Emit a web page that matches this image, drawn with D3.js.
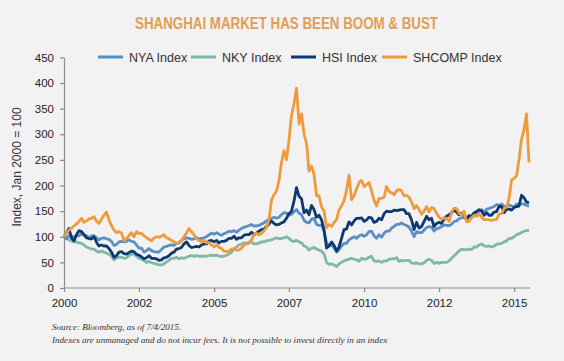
<!DOCTYPE html>
<html>
<head>
<meta charset="utf-8">
<script src="https://cdn.jsdelivr.net/npm/d3@7"></script>
<style>
  body { margin: 0; background: #f2f2f2; }
  svg { display: block; }
</style>
</head>
<body>
<div id="chart"></div>
<script>
// data: index values, Jan 2000 = 100, one value per month (Jan 2000 .. Jul 2015)
const firstMonth = new Date(2000, 0, 1)
const seriesNames = ['NYA Index', 'NKY Index', 'HSI Index', 'SHCOMP Index']

const nya = [
  100, 96, 102, 101, 100, 101, 102, 106, 103, 102, 98, 102,
  102, 98, 94, 97, 98, 96, 95, 91, 83, 85, 90, 91,
  90, 91, 94, 91, 90, 84, 78, 78, 70, 73, 77, 73,
  71, 70, 70, 75, 80, 81, 83, 84, 83, 87, 88, 93,
  96, 98, 97, 95, 96, 98, 96, 97, 98, 100, 104, 107,
  105, 108, 105, 103, 106, 108, 111, 110, 112, 109, 113, 116,
  119, 120, 122, 124, 121, 121, 122, 125, 127, 131, 134, 136,
  138, 136, 138, 143, 147, 146, 142, 144, 149, 153, 146, 143,
  132, 128, 127, 134, 136, 124, 122, 123, 110, 88, 82, 84,
  78, 70, 75, 82, 87, 87, 94, 97, 100, 97, 102, 104,
  101, 104, 110, 111, 102, 97, 104, 99, 107, 111, 111, 117,
  120, 124, 124, 127, 124, 122, 119, 111, 100, 110, 108, 108,
  113, 118, 120, 119, 111, 116, 117, 120, 123, 122, 122, 124,
  130, 131, 135, 137, 138, 135, 141, 137, 142, 148, 150, 153,
  148, 154, 155, 157, 159, 163, 161, 164, 159, 160, 162, 160,
  158, 164, 162, 164, 164, 161, 160
]

const nky = [
  100, 97, 94, 92, 90, 90, 88, 87, 84, 80, 78, 76,
  76, 72, 70, 72, 70, 68, 66, 62, 55, 58, 60, 60,
  58, 59, 63, 66, 67, 62, 58, 56, 54, 50, 52, 49,
  48, 47, 45, 45, 47, 51, 54, 58, 58, 60, 57, 59,
  58, 60, 62, 63, 62, 63, 62, 62, 62, 62, 63, 64,
  63, 64, 62, 61, 62, 64, 66, 70, 76, 80, 84, 86,
  88, 87, 90, 90, 86, 86, 88, 90, 90, 92, 93, 94,
  96, 98, 96, 97, 98, 100, 97, 92, 91, 93, 90, 88,
  82, 80, 74, 78, 79, 76, 74, 72, 66, 50, 46, 47,
  45, 42, 47, 50, 53, 55, 56, 58, 56, 55, 52, 58,
  56, 57, 60, 62, 53, 52, 53, 50, 53, 53, 56, 57,
  57, 59, 52, 54, 53, 54, 54, 49, 48, 49, 47, 47,
  49, 54, 56, 54, 48, 50, 48, 50, 50, 50, 53, 58,
  63, 68, 72, 76, 75, 75, 76, 75, 80, 80, 84, 86,
  82, 81, 82, 80, 82, 85, 86, 87, 90, 92, 97, 97,
  100, 104, 106, 108, 111, 112, 113
]

const hsi = [
  100, 108, 116, 98, 92, 104, 112, 110, 104, 98, 96, 96,
  100, 89, 82, 84, 82, 82, 77, 70, 60, 63, 70, 71,
  67, 66, 69, 72, 71, 66, 64, 61, 57, 59, 63, 58,
  58, 57, 54, 55, 59, 60, 63, 68, 70, 76, 77, 79,
  86, 90, 83, 79, 80, 81, 80, 84, 86, 86, 92, 93,
  90, 93, 88, 91, 91, 93, 97, 97, 101, 95, 98, 98,
  103, 104, 104, 109, 104, 107, 111, 114, 115, 120, 125, 131,
  126, 123, 124, 127, 129, 136, 145, 150, 170, 196, 179, 174,
  147, 152, 143, 161, 153, 138, 142, 133, 113, 78, 82, 90,
  83, 72, 80, 97, 114, 115, 129, 123, 131, 136, 136, 137,
  130, 133, 138, 137, 128, 130, 136, 133, 145, 150, 149, 149,
  152, 151, 152, 153, 153, 145, 145, 133, 114, 128, 117, 120,
  130, 140, 133, 136, 120, 126, 128, 126, 135, 140, 143, 147,
  152, 148, 143, 146, 144, 134, 141, 140, 147, 149, 153, 150,
  142, 147, 142, 142, 148, 149, 159, 159, 147, 154, 154, 152,
  157, 159, 160, 181, 176, 168, 166
]

const shcomp = [
  100, 108, 113, 117, 121, 125, 130, 136, 128, 131, 135, 136,
  139, 130, 126, 134, 142, 148, 133, 122, 113, 108, 110, 107,
  92, 97, 102, 108, 100, 110, 106, 107, 102, 98, 95, 92,
  98, 100, 99, 101, 104, 98, 96, 93, 90, 87, 88, 92,
  100, 108, 116, 110, 104, 96, 93, 90, 94, 88, 89, 84,
  80, 85, 79, 77, 72, 71, 72, 76, 77, 74, 74, 78,
  84, 86, 87, 94, 104, 107, 104, 106, 112, 118, 134, 172,
  182, 190, 208, 245, 268, 250, 288, 336, 360, 390, 320, 340,
  300, 282, 228, 238, 222, 180, 180, 158, 150, 118, 124, 120,
  128, 134, 152, 160, 170, 190, 220, 172, 180, 193, 206, 210,
  198, 202, 206, 190, 172, 160, 175, 175, 177, 198, 188, 186,
  182, 190, 192, 190, 180, 181, 177, 168, 155, 161, 153, 144,
  150, 159, 148, 157, 155, 146, 138, 134, 137, 136, 130, 148,
  156, 155, 146, 142, 150, 129, 130, 137, 142, 140, 145, 138,
  133, 134, 133, 132, 133, 134, 144, 145, 155, 158, 176, 211,
  214, 220, 250, 290, 308, 340, 245
]

const yTicks = [0, 50, 100, 150, 200, 250, 300, 350, 400, 450]
const xTickDates = [new Date(2000, 0, 1), new Date(2002, 6, 1), new Date(2005, 0, 1), new Date(2007, 6, 1),
  new Date(2010, 0, 1), new Date(2012, 6, 1), new Date(2015, 0, 1)]
const xTickLabels = ['2000', '2002', '2005', '2007', '2010', '2012', '2015']

// styles
const colors = {'NYA Index': '#5b8fc4', 'NKY Index': '#7fb8a3', 'HSI Index': '#0c3a70', 'SHCOMP Index': '#ef9a3c'}
const drawOrder = ['NKY Index', 'NYA Index', 'HSI Index', 'SHCOMP Index']
const sans = '"Liberation Sans", Arial, sans-serif'

// canvas
const svgWidth = 564
const svgHeight = 361
const margin = {top: 57.4, right: 35, bottom: 73, left: 64}
const width = svgWidth - margin.left - margin.right
const height = svgHeight - margin.top - margin.bottom

const svg = d3.select('#chart').append('svg').attr('width', svgWidth).attr('height', svgHeight)
svg.append('rect').attr('width', svgWidth).attr('height', svgHeight).attr('fill', '#f2f2f2')

// title (narrow face squeezed to the original width)
svg.append('text').attr('x', 135).attr('y', 29)
  .attr('textLength', 303).attr('lengthAdjust', 'spacingAndGlyphs')
  .style('font-family', sans).style('font-size', '16.5px').style('font-weight', 'bold')
  .attr('fill', '#e39d55')
  .text('SHANGHAI MARKET HAS BEEN BOOM & BUST')

const chartGroup = svg.append('g').attr('transform', `translate(${margin.left}, ${margin.top})`)

// build rows
const months = d3.timeMonth.range(firstMonth, d3.timeMonth.offset(firstMonth, nya.length))
const valuesByName = {'NYA Index': nya, 'NKY Index': nky, 'HSI Index': hsi, 'SHCOMP Index': shcomp}
const series = seriesNames.map(name => ({
  name: name,
  points: months.map((m, i) => ({date: m, value: valuesByName[name][i]}))
}))

// scales
const x = d3.scaleTime().domain([firstMonth, months[months.length - 1]]).range([0, width])
const y = d3.scaleLinear().domain([0, 450]).range([height, 0])

// axes
const xAxis = d3.axisBottom(x).tickValues(xTickDates).tickFormat((d, i) => xTickLabels[i]).tickSize(4).tickSizeOuter(0)
const yAxis = d3.axisLeft(y).tickValues(yTicks).tickSize(4).tickSizeOuter(0)

const gx = chartGroup.append('g').attr('transform', `translate(0, ${height})`).call(xAxis)
const gy = chartGroup.append('g').call(yAxis)
gx.select('.domain').attr('d', `M0,0H${width + 1}`)
chartGroup.selectAll('.domain, .tick line').attr('stroke', '#8c8c8c').attr('stroke-width', 1.2)
gx.selectAll('text').attr('dy', '1.05em').attr('fill', '#222')
  .style('font-family', sans).style('font-size', '11.5px')
gy.selectAll('text').attr('x', -10).attr('fill', '#222')
  .style('font-family', sans).style('font-size', '11.5px')

// y label
svg.append('text').attr('transform', 'translate(21, 167) rotate(-90)').attr('text-anchor', 'middle')
  .style('font-family', sans).style('font-size', '12px').attr('fill', '#333')
  .text('Index, Jan 2000 = 100')

// lines
const line = d3.line().x(d => x(d.date)).y(d => y(d.value))
chartGroup.selectAll('.series').data(drawOrder.map(n => series.find(s => s.name === n))).enter()
  .append('path').attr('class', 'series')
  .attr('d', d => line(d.points)).attr('fill', 'none')
  .attr('stroke', d => colors[d.name]).attr('stroke-width', 2.8)
  .attr('stroke-linejoin', 'round')

// legend
const legendX = [98, 191, 291, 382]
const legend = svg.selectAll('.legend').data(seriesNames).enter().append('g')
  .attr('transform', (d, i) => `translate(${legendX[i]}, 57)`)
legend.append('line').attr('x1', 0).attr('x2', 25).attr('stroke', d => colors[d]).attr('stroke-width', 3)
legend.append('text').attr('x', 31).attr('y', 4.5).text(d => d)
  .style('font-family', sans).style('font-size', '12.5px').attr('fill', '#333')

// footnote
const note = svg.append('text').attr('x', 52).attr('y', 330)
  .style('font-family', '"Liberation Serif", "Times New Roman", serif').style('font-style', 'italic')
  .style('font-size', '9.1px').attr('fill', '#333')
note.append('tspan').attr('x', 52).text('Source: Bloomberg, as of 7/4/2015.')
note.append('tspan').attr('x', 52).attr('dy', 13)
  .text('Indexes are unmanaged and do not incur fees. It is not possible to invest directly in an index')
</script>
</body>
</html>
